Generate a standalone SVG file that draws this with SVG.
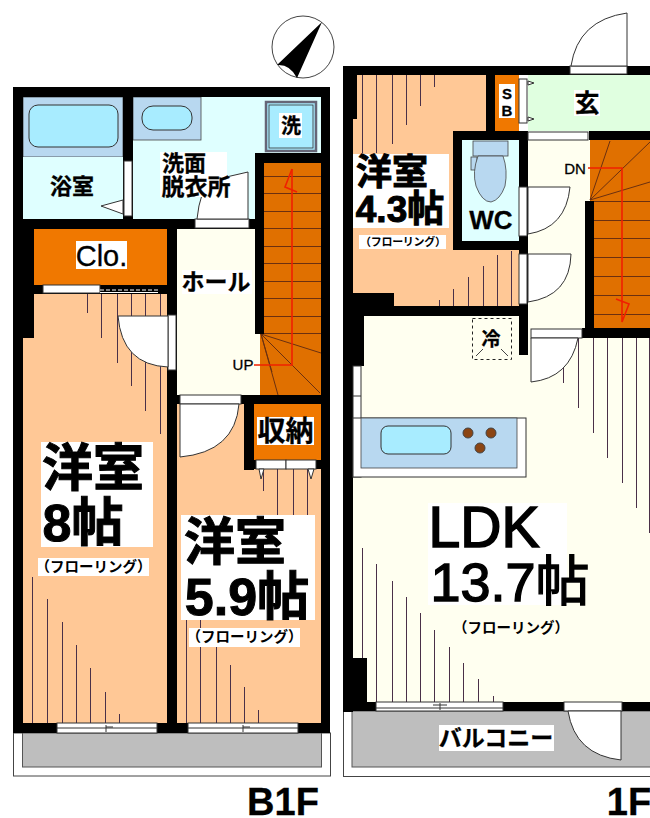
<svg xmlns="http://www.w3.org/2000/svg" width="650" height="818" viewBox="0 0 650 818">
<style>
.w{fill:#000}
.p{fill:#FFC896}
.y{fill:#FFFFF0}
.c{fill:#DFFFFF}
.b{fill:#B8D8F0;stroke:#444;stroke-width:.8}
.t{fill:#A8ECFF;stroke:#333;stroke-width:1}
.o{fill:#E07000}
.og{fill:#F07800}
.g{fill:#BEBEBE;stroke:#555;stroke-width:1}
.wh{fill:#fff}
.d{fill:#fff;stroke:#333;stroke-width:1}
.fl{stroke:#4A3048;stroke-width:1;fill:none}
.st{stroke:#6B3010;stroke-width:1;fill:none}
.r{stroke:#F02000;stroke-width:1.6;fill:none}
text{font-family:"Liberation Sans","Noto Sans CJK JP",sans-serif;fill:#000;font-weight:700;text-anchor:middle;stroke:#000;stroke-width:.3}
.big{stroke-width:1}
.s{font-size:14.500px;stroke-width:0}
.n{font-weight:400;stroke-width:.3}
</style>
<rect width="650" height="818" fill="#fff"/>
<g id="compass">
<circle cx="303" cy="47" r="31" fill="#fff" stroke="#444" stroke-width="1"/>
<path d="M322 22L277 65Q290 64 297 78Z" fill="#000"/>
</g>
<g id="b1f">
<g id="balcony-b1f">
<rect x="13.500" y="733" width="317" height="43" fill="#fff" stroke="#444"/>
<rect x="22.500" y="733" width="299" height="34" class="g"/>
</g>
<g id="rooms-b1f">
<rect x="23" y="97" width="100" height="60" class="b"/>
<rect x="23" y="157" width="100" height="62" class="c"/>
<rect x="133" y="97" width="188" height="122" class="c"/>
<rect x="133" y="97" width="68" height="43" class="b"/>
<rect x="142" y="106" width="50" height="24" rx="11" class="t"/>
<rect x="29" y="105" width="89" height="42" rx="9" class="t"/>
<rect x="34" y="229" width="133" height="56" class="og"/>
<rect x="177" y="229" width="85" height="166" class="y"/>
<rect x="23" y="294" width="144" height="430" class="p"/>
<rect x="177" y="404" width="144" height="320" class="p"/>
<rect x="254" y="404" width="67" height="56" class="og"/>
<rect x="260" y="163" width="61" height="232" class="o"/>
</g>
<g id="stairs-b1f" class="st">
<path d="M264 176.500H321M264 193.500H321M264 211.500H321M264 228.500H321M264 246.500H321M264 263.500H321M264 281.500H321M264 298.500H321M264 316.500H321M264 333.500H321"/>
<path d="M261 334L321 353M261 334L320 393M261 334L278 395M261 334L272 372"/>
</g>
<g id="floor-b1f" class="fl" transform="translate(.5 0)">
<path d="M87 294V313M101 294V338M117 294V363M131 294V386M145 294V411M160 294V434"/>
<path d="M32 577V723M47 599V723M62 622V723M76 645V723M90 668V723M105 692V723M119 714V723"/>
<path d="M263 469V491M277 469V515M293 469V515M307 469V515"/>
<path d="M186 620V723M200 620V723M216 647V723M230 665V723M244 687V723M258 710V723"/>
</g>
<g id="walls-b1f" class="w">
<rect x="13" y="87" width="317" height="10"/>
<rect x="13" y="87" width="10" height="646"/>
<rect x="321" y="87" width="9" height="646"/>
<rect x="123" y="97" width="10" height="122"/>
<rect x="23" y="219" width="241" height="10"/>
<rect x="255" y="153" width="66" height="10"/>
<rect x="255" y="153" width="9" height="181"/>
<rect x="23" y="229" width="11" height="109"/>
<rect x="34" y="285" width="133" height="9"/>
<rect x="167" y="229" width="10" height="504"/>
<rect x="177" y="395" width="144" height="9"/>
<rect x="244" y="404" width="10" height="66"/>
<rect x="254" y="460" width="67" height="9"/>
<rect x="13" y="723" width="317" height="10"/>
</g>
<g id="fixtures-b1f">
<rect x="266" y="102" width="50" height="49" fill="#A8ECFF" stroke="#667" stroke-width="2.500"/>
<rect x="269" y="105" width="44" height="43" fill="none" stroke="#333" stroke-width=".8"/>
<path d="M292 169L285 187L297 192" class="r"/>
<path d="M292 169V365H254" class="r"/>
</g>
<g id="doors-b1f">
<rect x="124" y="161" width="8" height="55" class="d"/>
<path d="M101 206L123 200V214Z" class="d"/>
<rect x="195" y="219" width="54" height="9" class="d"/>
<path d="M248 172V219H197Q200 190 210 184Q228 175 248 172Z" class="d"/>
<rect x="43" y="285" width="57" height="8" class="d"/>
<path d="M100 290H158" stroke="#fff" stroke-width="1" stroke-dasharray="4 2"/>
<path d="M100 292.500H158" stroke="#fff" stroke-width="1"/>
<rect x="168" y="315" width="8" height="55" class="d"/>
<path d="M118 316H168V367Q122 365 118 316Z" class="d"/>
<rect x="180" y="395" width="61" height="9" class="d"/>
<path d="M180 404H239Q235 452 180 457Z" class="d"/>
<rect x="256" y="460" width="30" height="9" class="d"/>
<rect x="286" y="460" width="30" height="9" class="d"/>
<path d="M259 469L261 479L264 469ZM308 469L311 479L314 469Z" class="d"/>
<rect x="57" y="723" width="100" height="10" class="d"/>
<path d="M57 728H157M106 725V732M106 727H113" stroke="#333" fill="none"/>
<rect x="188" y="723" width="110" height="10" class="d"/>
<path d="M188 728H298M243 725V732M243 727H250" stroke="#333" fill="none"/>
</g>
<g id="labels-b1f">
<rect x="50" y="172" width="46" height="26" class="c"/>
<text x="72" y="194" font-size="22">浴室</text>
<rect x="160" y="152" width="67" height="45" class="wh"/>
<text x="184" y="171" font-size="22" textLength="44">洗面</text>
<text x="196" y="195" font-size="23">脱衣所</text>
<rect x="279" y="113" width="23" height="25" class="wh"/>
<text x="291" y="133" font-size="20">洗</text>
<rect x="76" y="241" width="51" height="28" class="wh"/>
<text x="101.500" y="266" font-size="29" class="n">Clo.</text>
<rect x="182" y="270" width="70" height="24" class="wh"/>
<text x="216" y="290" font-size="23">ホール</text>
<text x="243" y="370" font-size="15" class="n">UP</text>
<rect x="257" y="417" width="57" height="28" class="wh"/>
<text x="285.500" y="441" font-size="28">収納</text>
<rect x="41" y="442" width="112" height="105" class="wh"/>
<text x="93" y="486" font-size="51" class="big">洋室</text>
<text x="83" y="541" font-size="52" class="big">8帖</text>
<rect x="38" y="558" width="111" height="18" class="wh"/>
<text x="93.500" y="572" class="s">（フローリング）</text>
<rect x="181" y="515" width="134" height="105" class="wh"/>
<text x="235" y="560" font-size="51" class="big">洋室</text>
<text x="247" y="615" font-size="52" class="big">5.9帖</text>
<rect x="189" y="628" width="111" height="19" class="wh"/>
<text x="244.500" y="642" class="s">（フローリング）</text>
<text x="283" y="815" font-size="38">B1F</text>
</g>
</g>
<g id="f1">
<g id="balcony-1f">
<rect x="343.500" y="711" width="320" height="65.500" fill="#fff" stroke="#444"/>
<rect x="352" y="711" width="310" height="56" class="g"/>
</g>
<g id="rooms-1f">
<rect x="353" y="75" width="133" height="231" class="p"/>
<rect x="486" y="131" width="42" height="180" class="p"/>
<rect x="495" y="75" width="24" height="56" class="og"/>
<rect x="528" y="75" width="122" height="56" fill="#E0FFE0"/>
<rect x="462" y="140" width="57" height="101" class="c"/>
<rect x="528" y="140" width="62" height="190" class="y"/>
<rect x="353" y="316" width="297" height="386" class="y"/>
<rect x="590" y="140" width="60" height="188" class="o"/>
</g>
<g id="stairs-1f" class="st">
<path d="M594 201.500H650M594 220.500H650M594 238.500H650M594 257.500H650M594 276.500H650M594 295.500H650M594 314.500H650"/>
<path d="M590 200L610 141M590 200L650 142M590 200L650 182"/>
</g>
<g id="floor-1f" class="fl" transform="translate(.5 0)">
<path d="M362 75V153M376 75V153M392 75V144M406 75V125M420 75V106M434 75V87"/>
<path d="M439 300V306M453 289V306M468 277V306M483 266V306M497 255V306M511 251V306"/>
<path d="M563 338V383M578 338V408M593 338V433M607 338V458M622 338V483M636 338V508M649 338V533"/>
<path d="M362 548V658M376 564V702M392 581V702M406 597V702M420 613V702M434 630V702M449 647V702M463 663V702M478 679V702M493 696V702"/>
</g>
<g id="walls-1f" class="w">
<rect x="343" y="66" width="307" height="9"/>
<rect x="343" y="66" width="14" height="53"/>
<rect x="343" y="119" width="10" height="593"/>
<rect x="486" y="75" width="9" height="56"/>
<rect x="453" y="131" width="75" height="9"/>
<rect x="589" y="131" width="61" height="9"/>
<rect x="453" y="131" width="9" height="119"/>
<rect x="453" y="241" width="75" height="9"/>
<rect x="519" y="131" width="9" height="224"/>
<rect x="585" y="201" width="9" height="137"/>
<rect x="582" y="328" width="68" height="10"/>
<rect x="343" y="306" width="185" height="10"/>
<rect x="343" y="293" width="51" height="13"/>
<rect x="343" y="306" width="21" height="60"/>
<rect x="343" y="658" width="24" height="44"/>
<rect x="343" y="702" width="307" height="9"/>
</g>
<g id="fixtures-1f">
<rect x="353" y="366" width="8" height="111" class="d"/>
<path d="M353 396H361" stroke="#333"/>
<rect x="353" y="418" width="173" height="59" class="d"/>
<rect x="361" y="418" width="156" height="50" class="b"/>
<rect x="381" y="426" width="70" height="28" rx="7" class="t"/>
<g fill="#8B4513" stroke="#444">
<circle cx="468" cy="433" r="5"/>
<circle cx="491" cy="433" r="5"/>
<circle cx="480" cy="448" r="5"/>
</g>
<rect x="473" y="141" width="35" height="15" class="b"/>
<rect x="471" y="157" width="6" height="13" class="b"/>
<path d="M478 156Q472 172 476 186Q482 202 491 202Q500 200 505 186Q508 170 503 156Z" class="b"/>
<rect x="472.500" y="318.500" width="39" height="41" fill="none" stroke="#222" stroke-dasharray="3 3"/>
<path d="M476 356L483 349M508 356L501 349" stroke="#444" fill="none"/>
<path d="M588 168H622V322L629 304L616 299" class="r"/>
</g>
<g id="doors-1f">
<rect x="570" y="66" width="57" height="8" class="d"/>
<path d="M627 13V66H571Q578 20 627 13Z" class="d"/>
<rect x="519" y="79" width="8" height="44" class="d"/>
<path d="M528 81L534 83L528 85ZM528 117L534 119L528 121Z" class="d"/>
<rect x="528" y="132" width="60" height="8" class="d"/>
<rect x="519" y="187" width="8" height="49" class="d"/>
<path d="M528 187H570Q566 228 528 234Z" class="d"/>
<rect x="519" y="254" width="8" height="50" class="d"/>
<path d="M528 254H571Q570 296 528 302Z" class="d"/>
<rect x="531" y="329" width="51" height="9" class="d"/>
<path d="M531 338H578Q570 378 531 382Z" class="d"/>
<rect x="376" y="702" width="127" height="9" class="d"/>
<path d="M376 708H503M440 703V710M433 705H447" stroke="#333" fill="none"/>
<rect x="564" y="702" width="58" height="9" class="d"/>
<path d="M621 711V760Q575 755 568 711Z" class="d"/>
</g>
<g id="labels-1f">
<rect x="499" y="84" width="16" height="34" class="wh"/>
<text x="507" y="99" font-size="15">S</text>
<text x="507" y="116" font-size="15">B</text>
<rect x="574" y="90" width="26" height="26" class="wh"/>
<text x="587" y="112" font-size="25">玄</text>
<rect x="353" y="154" width="96" height="74" class="wh"/>
<text x="392" y="185" font-size="36" class="big">洋室</text>
<text x="400" y="222" font-size="37" class="big">4.3帖</text>
<rect x="359" y="235" width="87" height="14" class="wh"/>
<text x="403" y="246" font-size="11" style="stroke-width:0" textLength="86">（フローリング）</text>
<text x="491" y="229" font-size="26">WC</text>
<text x="575" y="174" font-size="15" class="n">DN</text>
<text x="491" y="346" font-size="19">冷</text>
<rect x="428" y="503" width="139" height="102" class="wh"/>
<text x="484" y="547" font-size="57" class="n" style="stroke-width:1.600">LDK</text>
<text x="510" y="601" font-size="54" class="n" style="stroke-width:1.400">13.7帖</text>
<text x="511" y="633" class="s">（フローリング）</text>
<rect x="439" y="725" width="115" height="26" class="wh"/>
<text x="496" y="746" font-size="23">バルコニー</text>
<text x="629" y="815" font-size="38">1F</text>
</g>
</g>
</svg>
